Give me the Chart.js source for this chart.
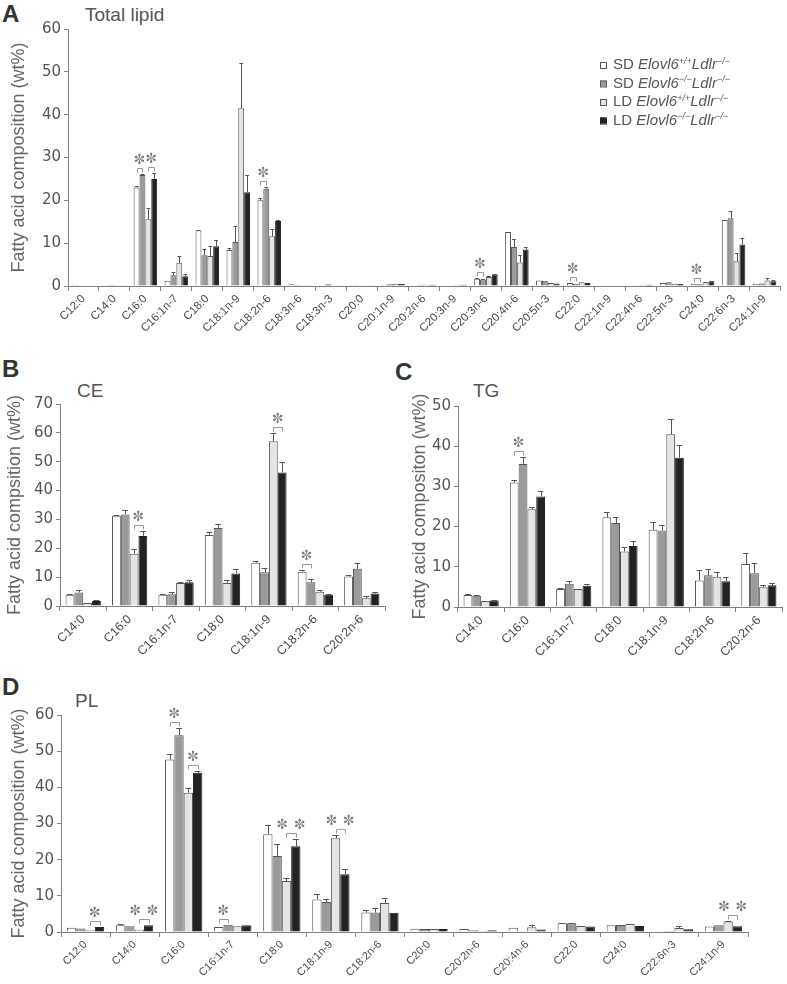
<!DOCTYPE html>
<html>
<head>
<meta charset="utf-8">
<script src="https://cdn.jsdelivr.net/npm/chart.js@4.4.0/dist/chart.umd.min.js"></script>
<style>
  body { margin: 0; background: #fff; width: 787px; height: 984px; position: relative; overflow: hidden;
         font-family: "Liberation Sans", Arial, sans-serif; }
  canvas { position: absolute; }
  .let { position: absolute; font-weight: bold; font-size: 24px; color: #333; line-height: 1; }
  .sub { position: absolute; font-size: 19px; color: #555; line-height: 1; }
</style>
</head>
<body>
<div class="let" style="left:2px;top:2px">A</div>
<div class="sub" style="left:85px;top:5px">Total lipid</div>
<div class="let" style="left:2px;top:357px">B</div>
<div class="sub" style="left:77px;top:381px">CE</div>
<div class="let" style="left:395px;top:360px">C</div>
<div class="sub" style="left:473px;top:381px">TG</div>
<div class="let" style="left:2px;top:675px">D</div>
<div class="sub" style="left:75px;top:691px">PL</div>

<canvas id="cA" width="787" height="340" style="left:0;top:0"></canvas>
<canvas id="cB" width="395" height="280" style="left:0;top:380px"></canvas>
<canvas id="cC" width="392" height="280" style="left:395px;top:380px"></canvas>
<canvas id="cD" width="787" height="294" style="left:0;top:690px"></canvas>

<script>
// --- series (4 groups) ---
const diets = ["SD", "SD", "LD", "LD"];
const genos = ["+/+", "\u2212/\u2212", "+/+", "\u2212/\u2212"];
const fills = ["#ffffff", "#9a9a9a", "#e4e4e4", "#222222"];
const edges = ["#555555", "#555555", "#555555", "#222222"];

// --- A: Total lipid ---
const catsA = ["C12:0", "C14:0", "C16:0", "C16:1n-7", "C18:0", "C18:1n-9", "C18:2n-6", "C18:3n-6", "C18:3n-3",
  "C20:0", "C20:1n-9", "C20:2n-6", "C20:3n-9", "C20:3n-6", "C20:4n-6", "C20:5n-3", "C22:0", "C22:1n-9",
  "C22:4n-6", "C22:5n-3", "C24:0", "C22:6n-3", "C24:1n-9"];
const valsA = [
  [0.3, 0.2, 23.0, 1.2, 13.0, 8.4, 20.0, 0.4, 0.2, 0.3, 0.3, 0.2, 0.1, 1.7, 12.6, 1.3, 0.7, 0.1, 0.2, 0.7, 0.5, 15.4, 0.5],
  [0.1, 0.3, 25.9, 2.5, 7.2, 10.3, 22.7, 0.3, 0.4, 0.2, 0.4, 0.3, 0.1, 1.5, 9.1, 1.2, 0.5, 0.1, 0.2, 0.9, 0.4, 15.8, 0.6],
  [0.1, 0.2, 15.6, 5.4, 7.0, 41.5, 11.6, 0.2, 0.2, 0.2, 0.5, 0.3, 0.3, 2.1, 5.5, 0.7, 0.9, 0.1, 0.3, 0.5, 0.9, 5.8, 1.3],
  [0.1, 0.2, 25.0, 2.3, 9.3, 21.9, 15.2, 0.2, 0.1, 0.2, 0.5, 0.3, 0.3, 2.7, 8.5, 0.6, 0.7, 0.1, 0.3, 0.5, 1.1, 9.7, 1.1]
];
const errsA = [
  [0, 0, 0.3, 0, 0.1, 0.5, 0.5, 0, 0, 0, 0, 0, 0, 0.1, 0.1, 0, 0, 0, 0, 0, 0, 0.1, 0],
  [0, 0, 0.2, 0.8, 1.5, 3.7, 0.4, 0, 0, 0, 0, 0, 0, 0.1, 1.8, 0, 0, 0, 0, 0, 0, 1.8, 0],
  [0, 0, 2.7, 1.5, 2.4, 10.5, 1.7, 0, 0, 0, 0, 0, 0, 0.3, 1.8, 0, 0, 0, 0, 0, 0.1, 2.0, 0.6],
  [0, 0, 1.3, 0.6, 1.4, 4.0, 0.3, 0, 0, 0, 0, 0, 0, 0.1, 0.7, 0, 0, 0, 0, 0, 0.1, 1.6, 0.3]
];
const sigA = [["C16:0", 0, 1, 1], ["C16:0", 2, 3, 1], ["C18:2n-6", 0, 1, 1], ["C20:3n-6", 0, 1, 1],
  ["C22:0", 0, 1, 1], ["C24:0", 0, 1, 1]];

// --- B: CE ---
const catsBC = ["C14:0", "C16:0", "C16:1n-7", "C18:0", "C18:1n-9", "C18:2n-6", "C20:2n-6"];
const valsB = [
  [3.9, 31.3, 3.9, 24.6, 15.0, 11.9, 10.2],
  [4.7, 31.7, 4.1, 27.0, 11.7, 8.2, 12.9],
  [1.0, 18.1, 8.0, 8.0, 57.1, 4.9, 2.7],
  [1.7, 24.3, 8.2, 11.3, 46.3, 3.9, 4.3]
];
const errsB = [
  [0.3, 0.2, 0.4, 1.0, 0.7, 0.7, 0.4],
  [0.8, 1.4, 0.8, 1.3, 1.4, 1.0, 2.0],
  [0, 1.8, 0.3, 0.9, 2.9, 0.6, 0.6],
  [0.4, 1.7, 0.9, 1.4, 3.6, 0.3, 0.7]
];
const sigB = [["C16:0", 2, 3, 1], ["C18:1n-9", 2, 3, 1], ["C18:2n-6", 0, 1, 1]];

// --- C: TG ---
const valsC = [
  [3.0, 31.0, 4.5, 22.3, 19.2, 6.6, 10.7],
  [2.8, 35.6, 5.8, 20.9, 19.0, 7.9, 8.4],
  [1.5, 24.3, 4.5, 13.8, 43.0, 7.5, 4.9],
  [1.6, 27.5, 5.3, 15.2, 37.1, 6.4, 5.4]
];
const errsC = [
  [0.3, 0.6, 0.3, 1.4, 1.9, 2.6, 2.7],
  [0.2, 1.6, 0.7, 1.5, 1.5, 1.6, 2.5],
  [0, 0.7, 0, 1.2, 3.7, 1.1, 0.6],
  [0.1, 1.4, 0.4, 1.1, 3.1, 1.1, 0.6]
];
const sigC = [["C16:0", 0, 1, 1]];

// --- D: PL ---
const catsD = ["C12:0", "C14:0", "C16:0", "C16:1n-7", "C18:0", "C18:1n-9", "C18:2n-6", "C20:0", "C20:2n-6",
  "C20:4n-6", "C22:0", "C24:0", "C22:6n-3", "C24:1n-9"];
const valsD = [
  [1.2, 1.85, 47.7, 1.4, 27.0, 9.0, 5.4, 0.9, 0.8, 1.2, 2.4, 1.85, 0.0, 1.5],
  [1.0, 1.6, 54.4, 2.0, 21.0, 8.3, 5.4, 0.85, 0.5, 0.2, 2.4, 1.95, 0.3, 1.85],
  [0.5, 0.65, 38.5, 1.6, 14.1, 25.9, 8.0, 0.8, 0.3, 1.3, 1.65, 2.2, 1.1, 2.9],
  [1.4, 1.85, 44.0, 1.85, 23.7, 16.0, 5.3, 0.85, 0.5, 0.7, 1.5, 1.65, 0.75, 1.6]
];
const errsD = [
  [0, 0.3, 1.4, 0, 2.6, 1.4, 0.8, 0, 0, 0, 0.1, 0, 0, 0],
  [0, 0, 1.9, 0, 3.2, 0.7, 1.1, 0, 0, 0, 0.1, 0, 0, 0],
  [0, 0, 1.4, 0, 0.7, 0.9, 1.3, 0, 0, 0.6, 0, 0.1, 0.5, 0.2],
  [0, 0, 0.6, 0, 1.9, 1.3, 0, 0, 0, 0, 0, 0, 0, 0]
];
const sigD = [["C12:0", 2, 3, 1], ["C14:0", 2, 3, 2], ["C16:0", 0, 1, 1], ["C16:0", 2, 3, 1],
  ["C16:1n-7", 0, 1, 1], ["C18:0", 2, 3, 2], ["C18:1n-9", 2, 3, 2], ["C24:1n-9", 2, 3, 2]];

const ink = "#4a4a4a";
const axisCol = "#808080";

// error bars, significance brackets and the legend
const marks = {
  id: "marks",
  afterDatasetsDraw(chart, args, o) {
    const ctx = chart.ctx;
    const y = chart.scales.y;
    const px = v => Math.round(v) + 0.5;
    ctx.save();
    ctx.strokeStyle = "#555";
    ctx.lineWidth = 1;
    chart.data.datasets.forEach((ds, i) => {
      chart.getDatasetMeta(i).data.forEach((bar, j) => {
        const e = ds.err[j];
        if (!e) return;
        const top = px(y.getPixelForValue(ds.data[j] + e));
        const half = bar.width * 0.32;
        ctx.beginPath();
        ctx.moveTo(px(bar.x), bar.y);
        ctx.lineTo(px(bar.x), top);
        ctx.moveTo(bar.x - half, top);
        ctx.lineTo(bar.x + half, top);
        ctx.stroke();
      });
    });

    // brackets with stars
    ctx.strokeStyle = "#999";
    ctx.fillStyle = "#7a7a7a";
    ctx.font = "14px 'DejaVu Sans'";
    ctx.textAlign = "center";
    ctx.textBaseline = "middle";
    (o.sig || []).forEach(([cat, a, b, n]) => {
      const j = chart.data.labels.indexOf(cat);
      const ba = chart.getDatasetMeta(a).data[j];
      const bb = chart.getDatasetMeta(b).data[j];
      let top = Infinity;
      for (let k = a; k <= b; k++) {
        const ds = chart.data.datasets[k];
        top = Math.min(top, y.getPixelForValue(ds.data[j] + ds.err[j]));
      }
      const yb = px(top - 6);
      ctx.beginPath();
      ctx.moveTo(px(ba.x), yb + 4);
      ctx.lineTo(px(ba.x), yb);
      ctx.lineTo(px(bb.x), yb);
      ctx.lineTo(px(bb.x), yb + 4);
      ctx.stroke();
      if (n === 1) {
        ctx.fillText("\u273C", (ba.x + bb.x) / 2, yb - 8);
      } else {
        ctx.fillText("\u273C", ba.x - 4, yb - 8);
        ctx.fillText("\u273C", bb.x + 4, yb - 8);
      }
    });

    if (o.legend) {
      const x0 = 600;
      let yy = 65;
      for (let i = 0; i < 4; i++) {
        ctx.fillStyle = fills[i];
        ctx.fillRect(x0, yy - 3, 6, 6);
        ctx.strokeStyle = edges[i];
        ctx.strokeRect(x0 + 0.5, yy - 2.5, 6, 6);
        ctx.fillStyle = "#555";
        ctx.textAlign = "left";
        ctx.textBaseline = "middle";
        let x = 613;
        const part = (txt, font, dy) => {
          ctx.font = font;
          ctx.fillText(txt, x, yy + dy);
          x += ctx.measureText(txt).width;
        };
        part(diets[i] + " ", "15px 'Liberation Sans'", 0);
        part("Elovl6", "italic 15px 'Liberation Sans'", 0);
        part(genos[i], "italic 9px 'Liberation Sans'", -4);
        part("Ldlr", "italic 15px 'Liberation Sans'", 0);
        part("\u2212/\u2212", "italic 9px 'Liberation Sans'", -4);
        yy += 18.5;
      }
    }
    ctx.restore();
  }
};

function panel(id, cats, vals, errs, cfg) {
  new Chart(document.getElementById(id), {
    type: "bar",
    data: {
      labels: cats,
      datasets: vals.map((v, i) => ({
        label: diets[i] + " Elovl6" + genos[i] + " Ldlr\u2212/\u2212",
        data: v,
        err: errs[i],
        backgroundColor: fills[i],
        borderColor: edges[i],
        borderWidth: 1,
        borderSkipped: "bottom",
        barPercentage: 1.0,
        categoryPercentage: 0.76
      }))
    },
    options: {
      responsive: false,
      animation: false,
      devicePixelRatio: 1,
      layout: { padding: { left: 0, top: cfg.top, right: cfg.right, bottom: 0 } },
      plugins: {
        legend: { display: false },
        tooltip: { enabled: false },
        marks: { sig: cfg.sig, legend: cfg.legend }
      },
      scales: {
        x: {
          afterFit: s => { s.height = cfg.xh; },
          grid: { offset: true, drawOnChartArea: false, tickLength: 5, color: axisCol },
          border: { color: axisCol, width: 1 },
          ticks: {
            autoSkip: false, minRotation: 45, maxRotation: 45, padding: 1,
            color: ink, font: { family: "Liberation Sans", size: cfg.xfont }
          }
        },
        y: {
          min: 0, max: cfg.max,
          afterFit: s => { s.width = cfg.yw; },
          grid: { drawOnChartArea: false, tickLength: 4, color: axisCol },
          border: { color: axisCol, width: 1 },
          ticks: { stepSize: 10, padding: 3, color: "#555", font: { family: "DejaVu Sans", size: 15 } },
          title: {
            display: true, text: cfg.title, color: "#666",
            font: { family: "Liberation Sans", size: 18 },
            padding: { top: cfg.tpad, bottom: 0 }
          }
        }
      }
    },
    plugins: [marks]
  });
}

panel("cA", catsA, valsA, errsA, { max: 60, top: 29, right: 7, xh: 54, yw: 68, tpad: 8, xfont: 11.5,
  title: "Fatty acid composition (wt%)", sig: sigA, legend: true });
panel("cB", catsBC, valsB, errsB, { max: 70, top: 24, right: 10, xh: 54, yw: 60, tpad: 4, xfont: 12.5,
  title: "Fatty acid compsition (wt%)", sig: sigB });
panel("cC", catsBC, valsC, errsC, { max: 50, top: 26, right: 5, xh: 53, yw: 63, tpad: 14, xfont: 12.5,
  title: "Fatty acid compositon (wt%)", sig: sigC });
panel("cD", catsD, valsD, errsD, { max: 60, top: 25, right: 39, xh: 52, yw: 61, tpad: 8, xfont: 11,
  title: "Fatty acid composition (wt%)", sig: sigD });
</script>
</body>
</html>
